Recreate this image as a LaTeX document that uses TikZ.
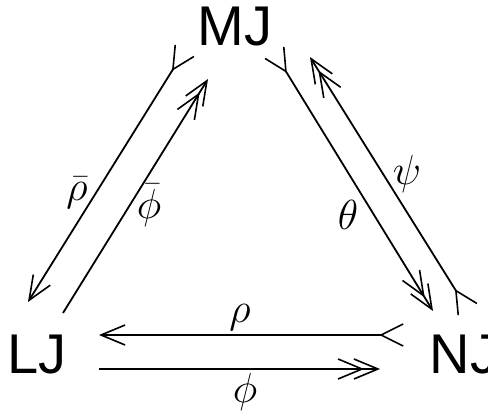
\RequirePackage{fix-cm}
\documentclass[tikz,border=0pt]{standalone}
\usepackage{fontspec}
\setsansfont{Liberation Sans}
\usetikzlibrary{arrows.meta}
\tikzset{
  obj/.style={inner sep=0pt, font=\sffamily\fontsize{56}{60}\selectfont},
  lbl/.style={inner sep=0pt, font=\fontsize{42}{48}\selectfont},
  conn/.style={line width=1.8pt},
  mono/.style={conn, {Straight Barb[length=22pt,width=22pt,reversed,line width=1.6pt]}-{Straight Barb[length=24pt,width=20pt,line width=1.6pt]}},
  plain/.style={conn, -{Straight Barb[length=24pt,width=20pt,line width=1.6pt]}},
  epi/.style={conn, -{Straight Barb[length=24pt,width=20pt,line width=1.6pt,sep=-11pt]Straight Barb[length=24pt,width=20pt,line width=1.6pt]}},
  monoepi/.style={conn, {Straight Barb[length=22pt,width=22pt,reversed,line width=1.6pt]}-{Straight Barb[length=24pt,width=20pt,line width=1.6pt,sep=-11pt]Straight Barb[length=24pt,width=20pt,line width=1.6pt]}},
}
\begin{document}
\begin{tikzpicture}[x=1pt,y=-1pt]
\useasboundingbox (0,0) rectangle (488,412);
\node[obj] (MJ) at (235,27) {MJ};
\node[obj] (LJ) at (37,355) {LJ};
\node[obj] (NJ) at (464,355) {NJ};
% endpoints
\coordinate (rhoS) at (404,335);
\coordinate (rhoE) at (99,335);
\coordinate (phiS) at (99,369);
\coordinate (phiE) at (380,369);
\coordinate (bphiS) at (63,313);
\coordinate (bphiE) at (208,79);
\coordinate (brhoS) at (185,50);
\coordinate (brhoE) at (28,302);
\coordinate (thS) at (274,52);
\coordinate (thE) at (433,311);
\coordinate (psS) at (468,310);
\coordinate (psE) at (310,57);
\draw[mono] (rhoS) -- (rhoE);
\draw[epi] (phiS) -- (phiE);
\draw[epi] (bphiS) -- (bphiE);
\draw[mono] (brhoS) -- (brhoE);
\draw[monoepi] (thS) -- (thE);
\draw[monoepi] (psS) -- (psE);
\node[lbl] (lrho) at (240,318) {$\rho$};
\node[lbl] (lphi) at (245,392) {$\phi$};
\node[lbl] (lbrho) at (77,193) {$\bar\rho$};
\node[lbl] (lbphi) at (149,205) {$\bar\phi$};
\node[lbl] (lth) at (348,215) {$\theta$};
\node[lbl] (lps) at (407,174) {$\psi$};
\end{tikzpicture}
\end{document}
